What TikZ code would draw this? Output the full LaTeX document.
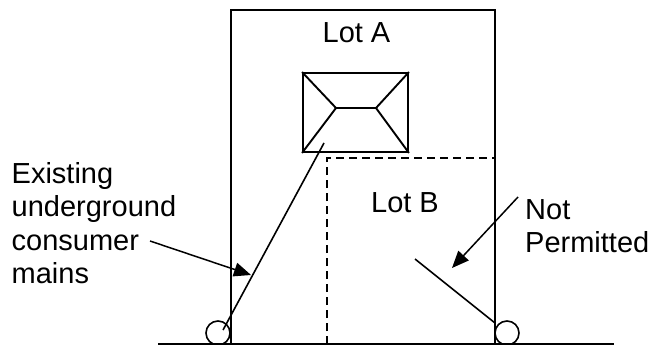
\documentclass[tikz,border=0pt]{standalone}
\usepackage{fontspec}
\setmainfont{Liberation Sans}
\usetikzlibrary{arrows.meta}
\tikzstyle{Haus}= [rectangle,draw,line width=1.9pt,minimum width=105pt,minimum height=79pt,inner sep=0pt]
\tikzstyle{Kreis}= [circle,draw,line width=1.6pt,minimum size=24pt,inner sep=0pt]
\tikzstyle{Schrift}= [font=\fontsize{29}{33.5}\selectfont,inner sep=0pt,align=left]
\tikzstyle{Pfeil}= [line width=1.5pt,-{Triangle[length=17pt,width=14pt]}]

\begin{document}
\begin{tikzpicture}[x=1pt,y=-1pt]
	\useasboundingbox (0,0) rectangle (653,345);

		\coordinate (a1) at (231,10);
		\coordinate (a2) at (495,10);
		\coordinate (a3) at (495,344);
		\coordinate (a4) at (231,344);
		\coordinate (b1) at (327,158);
		\coordinate (b2) at (495,158);
		\coordinate (b3) at (327,344);
		\coordinate (g1) at (158,344);
		\coordinate (g2) at (614,344);
		\coordinate (h1) at (336,108);
		\coordinate (h2) at (376,108);
		\coordinate (m1) at (324,143);
		\coordinate (n1) at (415,259);
		\coordinate (n2) at (495,323);
		\coordinate (p1) at (150,241);
		\coordinate (p2) at (251,275);
		\coordinate (q1) at (518,197);
		\coordinate (q2) at (452,268);

		\node [Haus] (haus) at (355.5,112.5) {};
		\node [Kreis] (k1) at (218,333) {};
		\node [Kreis] (k2) at (507,333) {};
		\coordinate (m2) at (223,330);

		\node [Schrift] (lotA) at (356.5,33) {Lot A};
		\node [Schrift] (lotB) at (405,203) {Lot B};
		\node [Schrift,anchor=west] (exist) at (11.5,223) {Existing\\underground\\consumer\\mains};
		\node [Schrift,anchor=west] (not) at (525,226) {Not\\Permitted};

		\draw[line width=1.9pt]
		(a4) -- (a1) -- (a2) -- (a3);
		\draw[line width=1.9pt]
		(g1) -- (g2);
		\draw[line width=1.9pt,dashed,dash pattern=on 8pt off 5pt]
		(b3) -- (b1) -- (b2);

		\draw[line width=1.9pt]
		(haus.north west) -- (h1) -- (h2) -- (haus.north east);
		\draw[line width=1.9pt]
		(haus.south west) -- (h1);
		\draw[line width=1.9pt]
		(haus.south east) -- (h2);

		\draw[line width=1.6pt]
		(m1) -- (m2);
		\draw[line width=1.6pt]
		(n1) -- (n2);

		\draw[Pfeil]
		(p1) -- (p2);
		\draw[Pfeil]
		(q1) -- (q2);

	\end{tikzpicture}
\end{document}
